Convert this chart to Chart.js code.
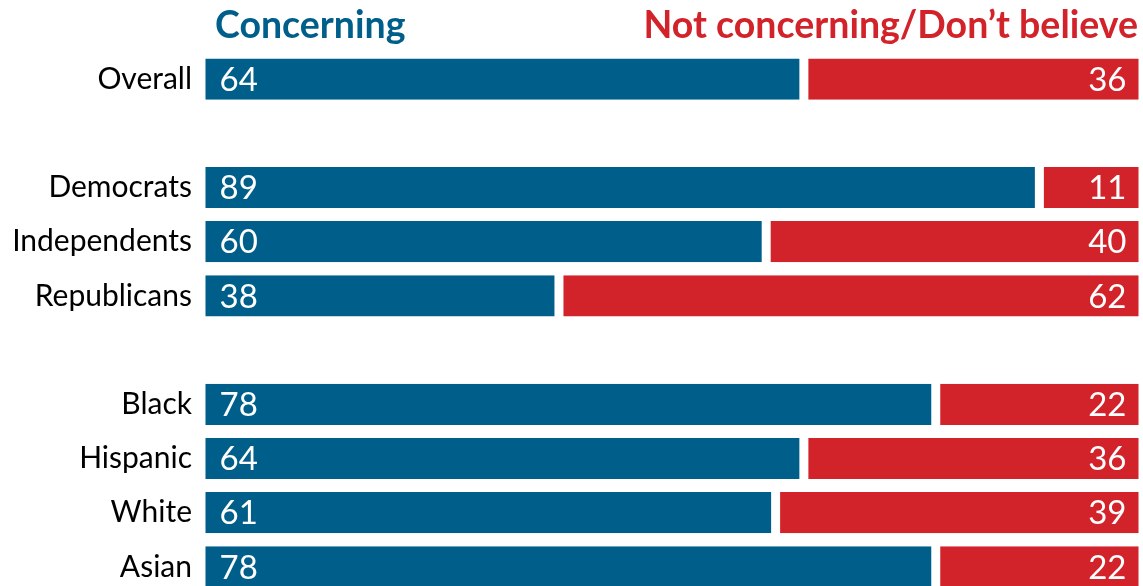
<!DOCTYPE html>
<html>
<head>
<meta charset="utf-8">
<script src="https://cdn.jsdelivr.net/npm/chart.js@4/dist/chart.umd.min.js"></script>
<style>
  html, body { margin: 0; padding: 0; background: #fff; overflow: hidden; }
  #wrap { position: relative; width: 1143px; height: 594px; }
</style>
</head>
<body>
<div id="wrap"><canvas id="chart"></canvas></div>
<script>
// groups, with empty rows as spacers between the blocks
const groups = ['Overall', '', 'Democrats', 'Independents', 'Republicans', '', 'Black', 'Hispanic', 'White', 'Asian'];
const concerning = [64, null, 89, 60, 38, null, 78, 64, 61, 78];
const notConcerning = [36, null, 11, 40, 62, null, 22, 36, 39, 22];
const seriesNames = ['Concerning', 'Not concerning/Don\u2019t believe'];

const BLUE = '#005F8A';
const RED = '#D3232A';
const FONT = 'Lato, "Noto Sans", sans-serif';
const GAP = 4.5;

// white numbers inside each bar segment
const valueLabels = {
    id: 'valueLabels',
    afterDatasetsDraw(chart) {
        const ctx = chart.ctx;
        ctx.save();
        ctx.fillStyle = '#fff';
        ctx.font = '33px ' + FONT;
        ctx.textBaseline = 'middle';
        chart.data.datasets.forEach((ds, i) => {
            chart.getDatasetMeta(i).data.forEach((bar, j) => {
                const v = ds.data[j];
                if (v == null) return;
                const p = bar.getProps(['x', 'y', 'base'], true);
                if (i === 0) {
                    ctx.textAlign = 'left';
                    ctx.fillText(String(v), p.base + GAP + 14, p.y + 1);
                } else {
                    ctx.textAlign = 'right';
                    ctx.fillText(String(v), p.x - GAP - 12, p.y + 1);
                }
            });
        });
        ctx.restore();
    }
};

// coloured series names above the bars
const header = {
    id: 'header',
    afterDraw(chart) {
        const { ctx, chartArea } = chart;
        ctx.save();
        ctx.font = 'bold 37.5px ' + FONT;
        ctx.textBaseline = 'alphabetic';
        ctx.fillStyle = BLUE;
        ctx.textAlign = 'left';
        ctx.fillText(seriesNames[0], chartArea.left + 14, 38);
        ctx.fillStyle = RED;
        ctx.textAlign = 'right';
        ctx.fillText(seriesNames[1], chartArea.right - 5, 38);
        ctx.restore();
    }
};

new Chart(document.getElementById('chart'), {
    type: 'bar',
    data: {
        labels: groups,
        datasets: [
            {
                label: seriesNames[0],
                data: concerning,
                backgroundColor: BLUE,
                borderColor: '#fff',
                borderWidth: { left: GAP, right: GAP, top: 0, bottom: 0 },
                borderSkipped: false
            },
            {
                label: seriesNames[1],
                data: notConcerning,
                backgroundColor: RED,
                borderColor: '#fff',
                borderWidth: { left: GAP, right: GAP, top: 0, bottom: 0 },
                borderSkipped: false
            }
        ]
    },
    options: {
        indexAxis: 'y',
        responsive: true,
        maintainAspectRatio: false,
        animation: false,
        barPercentage: 0.76,
        categoryPercentage: 1,
        layout: { padding: { top: 52, right: 0, bottom: 0, left: 0 } },
        plugins: {
            legend: { display: false },
            tooltip: { enabled: false }
        },
        scales: {
            x: { stacked: true, min: 0, max: 100, display: false },
            y: {
                stacked: true,
                grid: { display: false, drawTicks: false },
                border: { display: false },
                afterFit(scale) {
                    scale.width = 201;
                    scale.paddingTop = 0;
                    scale.paddingBottom = 0;
                },
                ticks: {
                    color: '#000',
                    padding: 9,
                    font: { family: FONT, size: 30 }
                }
            }
        }
    },
    plugins: [valueLabels, header]
});
</script>
</body>
</html>
